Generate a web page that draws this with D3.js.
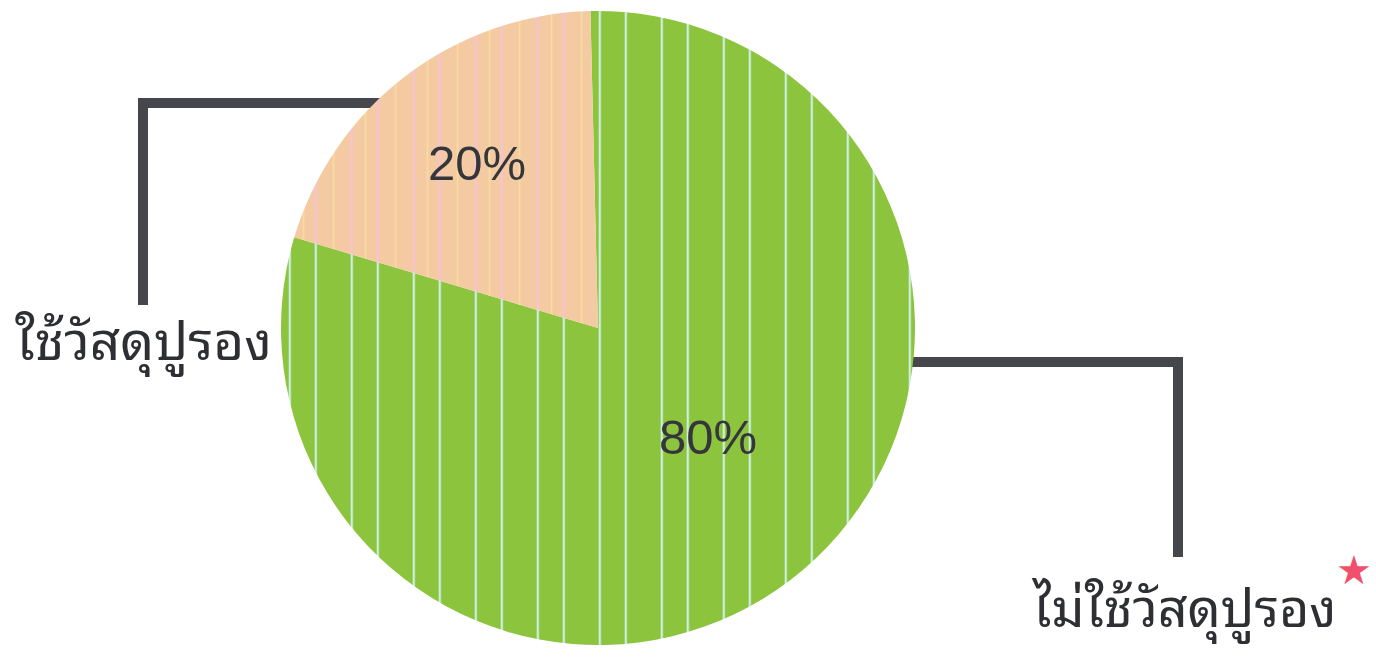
<!DOCTYPE html>
<html><head><meta charset="utf-8">
<script src="https://cdn.jsdelivr.net/npm/d3@7"></script>
<style>
html,body{margin:0;padding:0;background:#fff;}
svg{display:block;}
</style></head>
<body><svg id="chart" width="1376" height="660"></svg>
<script>
const categories = ["ไม่ใช้วัสดุปูรอง", "ใช้วัสดุปูรอง"];
const values = [80, 20];
const percentLabels = ["80%", "20%"];

const W = 1376, H = 660;
const cx = 598, cy = 328, R = 317;
const svg = d3.select("#chart");
const defs = svg.append("defs");

// stripe patterns
const period = 62;
const offX = ((4.7 - cx) % period + period) % period;
const pg = defs.append("pattern").attr("id","pGreen").attr("patternUnits","userSpaceOnUse")
  .attr("width",period).attr("height",10).attr("x",offX);
pg.append("rect").attr("width",period).attr("height",10).attr("fill","#8cc43e");
[0,36].forEach(x=>pg.append("rect").attr("x",x).attr("width",2.2).attr("height",10).attr("fill","#cdeee2"));
const pp = defs.append("pattern").attr("id","pPeach").attr("patternUnits","userSpaceOnUse")
  .attr("width",period).attr("height",10).attr("x",offX);
pp.append("rect").attr("width",period).attr("height",10).attr("fill","#f4caa2");
[0,36].forEach(x=>pp.append("rect").attr("x",x).attr("width",2.2).attr("height",10).attr("fill","#f7c3d4"));
[18,50].forEach(x=>pp.append("rect").attr("x",x).attr("width",1.6).attr("height",10).attr("fill","#f8dd9e"));

const color = d3.scaleOrdinal().domain(categories).range(["url(#pGreen)","url(#pPeach)"]);

// leader lines (under pie)
const lineColor = "#45474c";
svg.append("path").attr("d","M392,103 H143 V305")
  .attr("fill","none").attr("stroke",lineColor).attr("stroke-width",10).attr("stroke-linejoin","miter");
svg.append("path").attr("d","M900,362 H1178 V557")
  .attr("fill","none").attr("stroke",lineColor).attr("stroke-width",10).attr("stroke-linejoin","miter");

const rot = -0.024;
const pie = d3.pie().sort(null).value(d=>d.v).startAngle(rot).endAngle(2*Math.PI+rot);
const data = categories.map((c,i)=>({c, v: values[i], p: percentLabels[i]}));
const arcs = pie(data);
const arc = d3.arc().innerRadius(0).outerRadius(R);

const g = svg.append("g").attr("transform",`translate(${cx},${cy})`);
g.selectAll("path").data(arcs).enter().append("path")
  .attr("d",arc).attr("fill",d=>color(d.data.c));

// percent labels
const pctPos = [[708-cx, 437-cy],[477-cx, 163-cy]];
g.selectAll("text.pct").data(arcs).enter().append("text").attr("class","pct")
  .attr("x",(d,i)=>pctPos[i][0]).attr("y",(d,i)=>pctPos[i][1])
  .attr("text-anchor","middle").attr("dominant-baseline","central")
  .attr("font-family","'Liberation Sans', Arial, sans-serif").attr("font-size",49)
  .attr("fill","#35363b").text(d=>d.data.p);

// category labels
const labelFont = "'Noto Sans Thai Looped','Noto Sans Thai','Noto Sans','DejaVu Sans',sans-serif";
svg.append("text").attr("x",15).attr("y",360).attr("font-family",labelFont).attr("font-size",53)
  .attr("fill","#2e2f33").text(categories[1]);
svg.append("text").attr("x",1033).attr("y",627).attr("font-family",labelFont).attr("font-size",52)
  .attr("fill","#2e2f33").text(categories[0]);
// star marker
svg.append("text").attr("x",1354).attr("y",584).attr("text-anchor","middle")
  .attr("font-family","'DejaVu Sans',sans-serif").attr("font-size",40).attr("fill","#f0506c").text("★");
</script></body></html>
